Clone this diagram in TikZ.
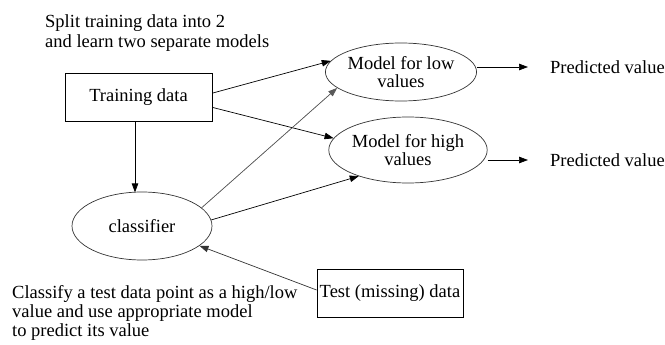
\documentclass[tikz,border=0pt]{standalone}
\usepackage{fontspec}
\setmainfont{Liberation Serif}
\usetikzlibrary{shapes.geometric,arrows.meta,calc}
\begin{document}
\begin{tikzpicture}[x=1pt,y=-1pt,
  every node/.style={font=\fontsize{18.5}{18}\selectfont},
  box/.style={draw, line width=0.8pt, minimum width=147pt, minimum height=48pt, inner sep=0},
  oval/.style={draw=black!80, ellipse, line width=0.7pt, inner sep=0, align=center},
  arr/.style={-{Triangle[length=9pt,width=6.5pt]}, line width=0.7pt},
  note/.style={align=left, anchor=north west, inner sep=0}]
\useasboundingbox (0,0) rectangle (665,345);
\node[box] (train) at (138.5,97) {Training data};
\node[oval, minimum width=138pt, minimum height=58pt] (low) at (401,72) {Model for low\\values};
\node[oval, minimum width=137pt, minimum height=66pt] (high) at (408,150) {Model for high\\values};
\node[oval, minimum width=140pt, minimum height=68pt] (clf) at (142,226) {classifier};
\node[box, minimum width=146pt] (test) at (390,293) {Test (missing) data};
\node[anchor=west, inner sep=0] (pv1) at (550,67) {Predicted value};
\node[anchor=west, inner sep=0] (pv2) at (550,160) {Predicted value};
\node[note, font=\fontsize{18.5}{20.5}\selectfont] (n1) at (45,14) {Split training data into 2\\and learn two separate models};
\node[note, font=\fontsize{18.5}{19}\selectfont] (n2) at (12,285) {Classify a test data point as a high/low\\value and use appropriate model\\to predict its value};
\draw[arr] (train.3) -- (low.171);
\draw[arr] (train.-8) -- (high.171);
\draw[arr] ([xshift=-3.5pt]train.south) -- ++(0,71);
\draw[arr, draw=gray!70!black, fill=black] (clf.17) -- (low.194);
\draw[arr] (clf.5) -- (high.208);
\draw[arr, draw=black!80] ([yshift=3pt]test.west) -- (clf.-19);
\draw[arr] (low.east |- pv1.west) -- ([xshift=-22pt]pv1.west);
\draw[arr] (high.east |- pv2.west) -- ([xshift=-22pt]pv2.west);
\end{tikzpicture}
\end{document}
